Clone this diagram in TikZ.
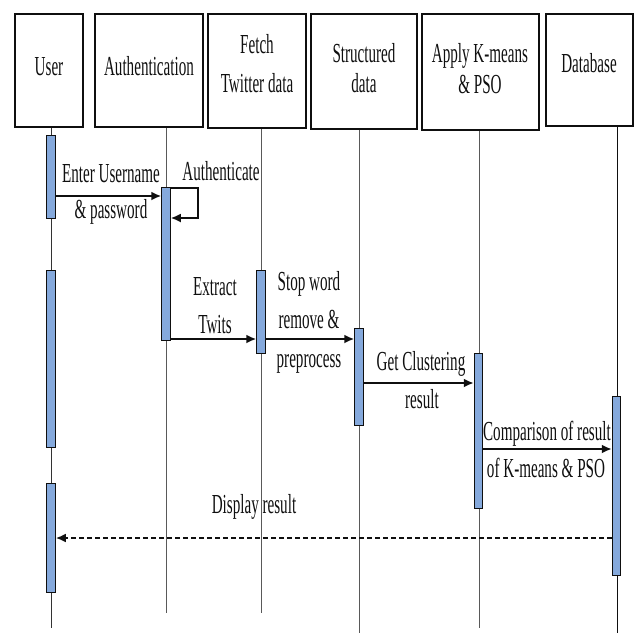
\documentclass[tikz,border=0pt]{standalone}
\usepackage{fontspec}
\setmainfont{Liberation Serif}[FakeStretch=0.55]
\usetikzlibrary{arrows.meta}
\definecolor{barblue}{RGB}{133,169,220}
\definecolor{ink}{RGB}{15,15,15}
\begin{document}
\begin{tikzpicture}[x=1pt, y=-1pt,
  font=\fontsize{27.5}{37}\selectfont,
  head/.style={draw=ink, line width=1.8pt, inner sep=0pt},
  lbl/.style={inner sep=0pt, anchor=base, text=ink},
  life/.style={draw=black!65, line width=0.9pt},
  act/.style={draw=ink, fill=barblue, line width=1pt, minimum width=8.5pt, inner sep=0pt},
  msg/.style={draw=ink, line width=1.9pt, -{Latex[length=10pt,width=9pt]}},
  reply/.style={msg, line width=2.6pt, dash pattern=on 5pt off 3pt}]
\useasboundingbox (0,0) rectangle (637,633);

% participant boxes
\node[head, minimum width=68pt,  minimum height=113pt] (user)   at (49,70.5)   {};
\node[head, minimum width=108pt, minimum height=113pt] (auth)   at (149,70.5)  {};
\node[head, minimum width=98pt,  minimum height=114pt] (fetch)  at (257,71)    {};
\node[head, minimum width=106pt, minimum height=115pt] (struct) at (364,71.5)  {};
\node[head, minimum width=117pt, minimum height=116pt] (apply)  at (480.5,72)  {};
\node[head, minimum width=87pt,  minimum height=112pt] (db)     at (589.5,70)  {};

% participant names
\node[lbl] (userT)    at (49,75)  {User};
\node[lbl] (authT)    at (149,75) {Authentication};
\node[lbl] (fetchT1)  at (257,53) {Fetch};
\node[lbl] (fetchT2)  at (257,92) {Twitter data};
\node[lbl] (structT1) at (364,62) {Structured};
\node[lbl] (structT2) at (364,92) {data};
\node[lbl] (applyT1)  at (480,62) {Apply K-means};
\node[lbl] (applyT2)  at (480,93) {\& PSO};
\node[lbl] (dbT)      at (589,72) {Database};

% lifelines
\coordinate (uEnd) at (51,628);
\coordinate (aEnd) at (166,613);
\coordinate (fEnd) at (261,613);
\coordinate (sEnd) at (359,633);
\coordinate (pEnd) at (479,628);
\coordinate (dEnd) at (617,633);
\draw[life, draw=black!80, line width=0.7pt] (user.south -| uEnd) -- (uEnd);
\draw[life] (auth.south -| aEnd) -- (aEnd);
\draw[life] (fetch.south -| fEnd) -- (fEnd);
\draw[life] (struct.south -| sEnd) -- (sEnd);
\draw[life] (apply.south -| pEnd) -- (pEnd);
\draw[life, draw=ink] (db.south -| dEnd) -- (dEnd);

% activation bars
\node[act, minimum height=83pt]  (uA1) at (51,176.5)  {};
\node[act, minimum height=177pt] (uA2) at (51,358.5)  {};
\node[act, minimum height=109pt] (uA3) at (51,537.5)  {};
\node[act, minimum height=153pt] (aA1) at (166,263.5) {};
\node[act, minimum height=83pt]  (fA1) at (261,311.5) {};
\node[act, minimum height=97pt]  (sA1) at (359,376.5) {};
\node[act, minimum height=155pt] (pA1) at (478.5,430.5) {};
\node[act, minimum height=179pt] (dA1) at (616.5,485.5) {};

% messages
\draw[msg] (uA1.east |- 0,196) -- (aA1.west |- 0,196);
\draw[msg] (aA1.east |- 0,188) -- ++(27,0) -- ++(0,30) -- (aA1.east |- 0,218);
\draw[msg] (aA1.east |- 0,339) -- (fA1.west |- 0,339);
\draw[msg] (fA1.east |- 0,339) -- (sA1.west |- 0,339);
\draw[msg] (sA1.east |- 0,383) -- (pA1.west |- 0,383);
\draw[msg] (pA1.east |- 0,449) -- (dA1.west |- 0,449);
\draw[reply] (dA1.west |- 0,538) -- (uA3.east |- 0,538);

% message labels
\node[lbl] (m1a) at (111,182) {Enter Username};
\node[lbl] (m1b) at (111,218) {\& password};
\node[lbl] (m2)  at (221,180) {Authenticate};
\node[lbl] (m3a) at (215,295) {Extract};
\node[lbl] (m3b) at (215,333) {Twits};
\node[lbl] (m4a) at (309,290) {Stop word};
\node[lbl] (m4b) at (309,328) {remove \&};
\node[lbl] (m4c) at (309,367) {preprocess};
\node[lbl] (m5a) at (421,370) {Get Clustering};
\node[lbl] (m5b) at (422,408) {result};
\node[lbl] (m6a) at (547,440) {Comparison of result};
\node[lbl] (m6b) at (546,477) {of K-means \& PSO};
\node[lbl] (m7)  at (254,513) {Display result};
\end{tikzpicture}
\end{document}
